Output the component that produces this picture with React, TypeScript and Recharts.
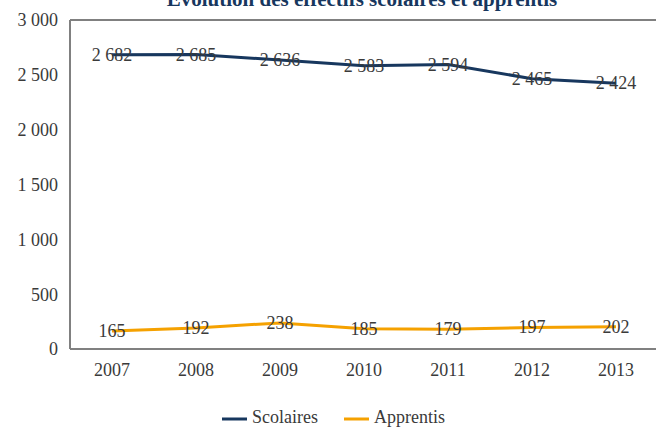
import { LineChart, Line, XAxis, YAxis, ReferenceLine, Legend, LabelList } from 'recharts'

const YEARS = ['2007', '2008', '2009', '2010', '2011', '2012', '2013']
const SCOLAIRES = [2682, 2685, 2636, 2583, 2594, 2465, 2424]
const APPRENTIS = [165, 192, 238, 185, 179, 197, 202]
const Y_TICKS = [0, 500, 1000, 1500, 2000, 2500, 3000]

const NAVY = '#17375e'
const ORANGE = '#f5a100'
const AXIS = '#808080'
const TEXT = '#3a3a3a'
const FONT = 'Liberation Serif, DejaVu Serif, serif'

const LEGEND_ITEMS = [
  { name: 'Scolaires', color: NAVY, x: 222 },
  { name: 'Apprentis', color: ORANGE, x: 344 },
]

const data = YEARS.map((year, i) => ({ year, scolaires: SCOLAIRES[i], apprentis: APPRENTIS[i] }))

function fmt(n: number) {
  return String(n).replace(/\B(?=(\d{3})+(?!\d))/g, ' ')
}

function valueLabel(props: any) {
  const { x, y, value } = props
  return (
    <text x={x} y={y} dy={6} textAnchor="middle" fill={TEXT} fontSize={18} fontFamily={FONT}>
      {fmt(Number(value))}
    </text>
  )
}

// legend drawn as svg so the serif font sticks
function renderLegend() {
  return (
    <svg width={656} height={49} style={{ display: 'block' }}>
      {LEGEND_ITEMS.map((it) => (
        <g key={it.name}>
          <line x1={it.x} x2={it.x + 25} y1={40} y2={40} stroke={it.color} strokeWidth={3} />
          <text x={it.x + 30} y={44} fill={TEXT} fontSize={18} fontFamily={FONT}>{it.name}</text>
        </g>
      ))}
    </svg>
  )
}

export default function App() {
  return (
    <div style={{ position: 'absolute', left: 0, top: 0, width: 656, height: 428, overflow: 'hidden', background: '#fff' }}>
      <LineChart width={670} height={428} data={data} margin={{ top: 20, right: 12, left: 0, bottom: 0 }}>
        <XAxis
          dataKey="year"
          height={30}
          tickSize={0}
          tickMargin={14}
          padding={{ left: 42, right: 42 }}
          axisLine={{ stroke: AXIS, strokeWidth: 2 }}
          tick={{ fill: TEXT, fontSize: 18, fontFamily: FONT }}
        />
        <YAxis
          width={70}
          domain={[0, 3000]}
          ticks={Y_TICKS}
          tickSize={0}
          tickMargin={12}
          tickFormatter={fmt}
          axisLine={{ stroke: AXIS, strokeWidth: 2 }}
          tick={{ fill: TEXT, fontSize: 18, fontFamily: FONT }}
        />
        <ReferenceLine y={3000} stroke={AXIS} strokeWidth={2} />
        <Legend verticalAlign="bottom" height={49} content={renderLegend} wrapperStyle={{ left: 0, width: 656 }} />
        <Line dataKey="scolaires" name="Scolaires" stroke={NAVY} strokeWidth={3} dot={false} isAnimationActive={false}>
          <LabelList dataKey="scolaires" content={valueLabel} />
        </Line>
        <Line dataKey="apprentis" name="Apprentis" stroke={ORANGE} strokeWidth={3} dot={false} isAnimationActive={false}>
          <LabelList dataKey="apprentis" content={valueLabel} />
        </Line>
      </LineChart>
      <svg width={656} height={20} style={{ position: 'absolute', left: 0, top: 0 }}>
        <text x={362} y={6} textAnchor="middle" fill={NAVY} fontSize={21} fontWeight="bold" fontFamily={FONT}>
          Évolution des effectifs scolaires et apprentis
        </text>
      </svg>
    </div>
  )
}
